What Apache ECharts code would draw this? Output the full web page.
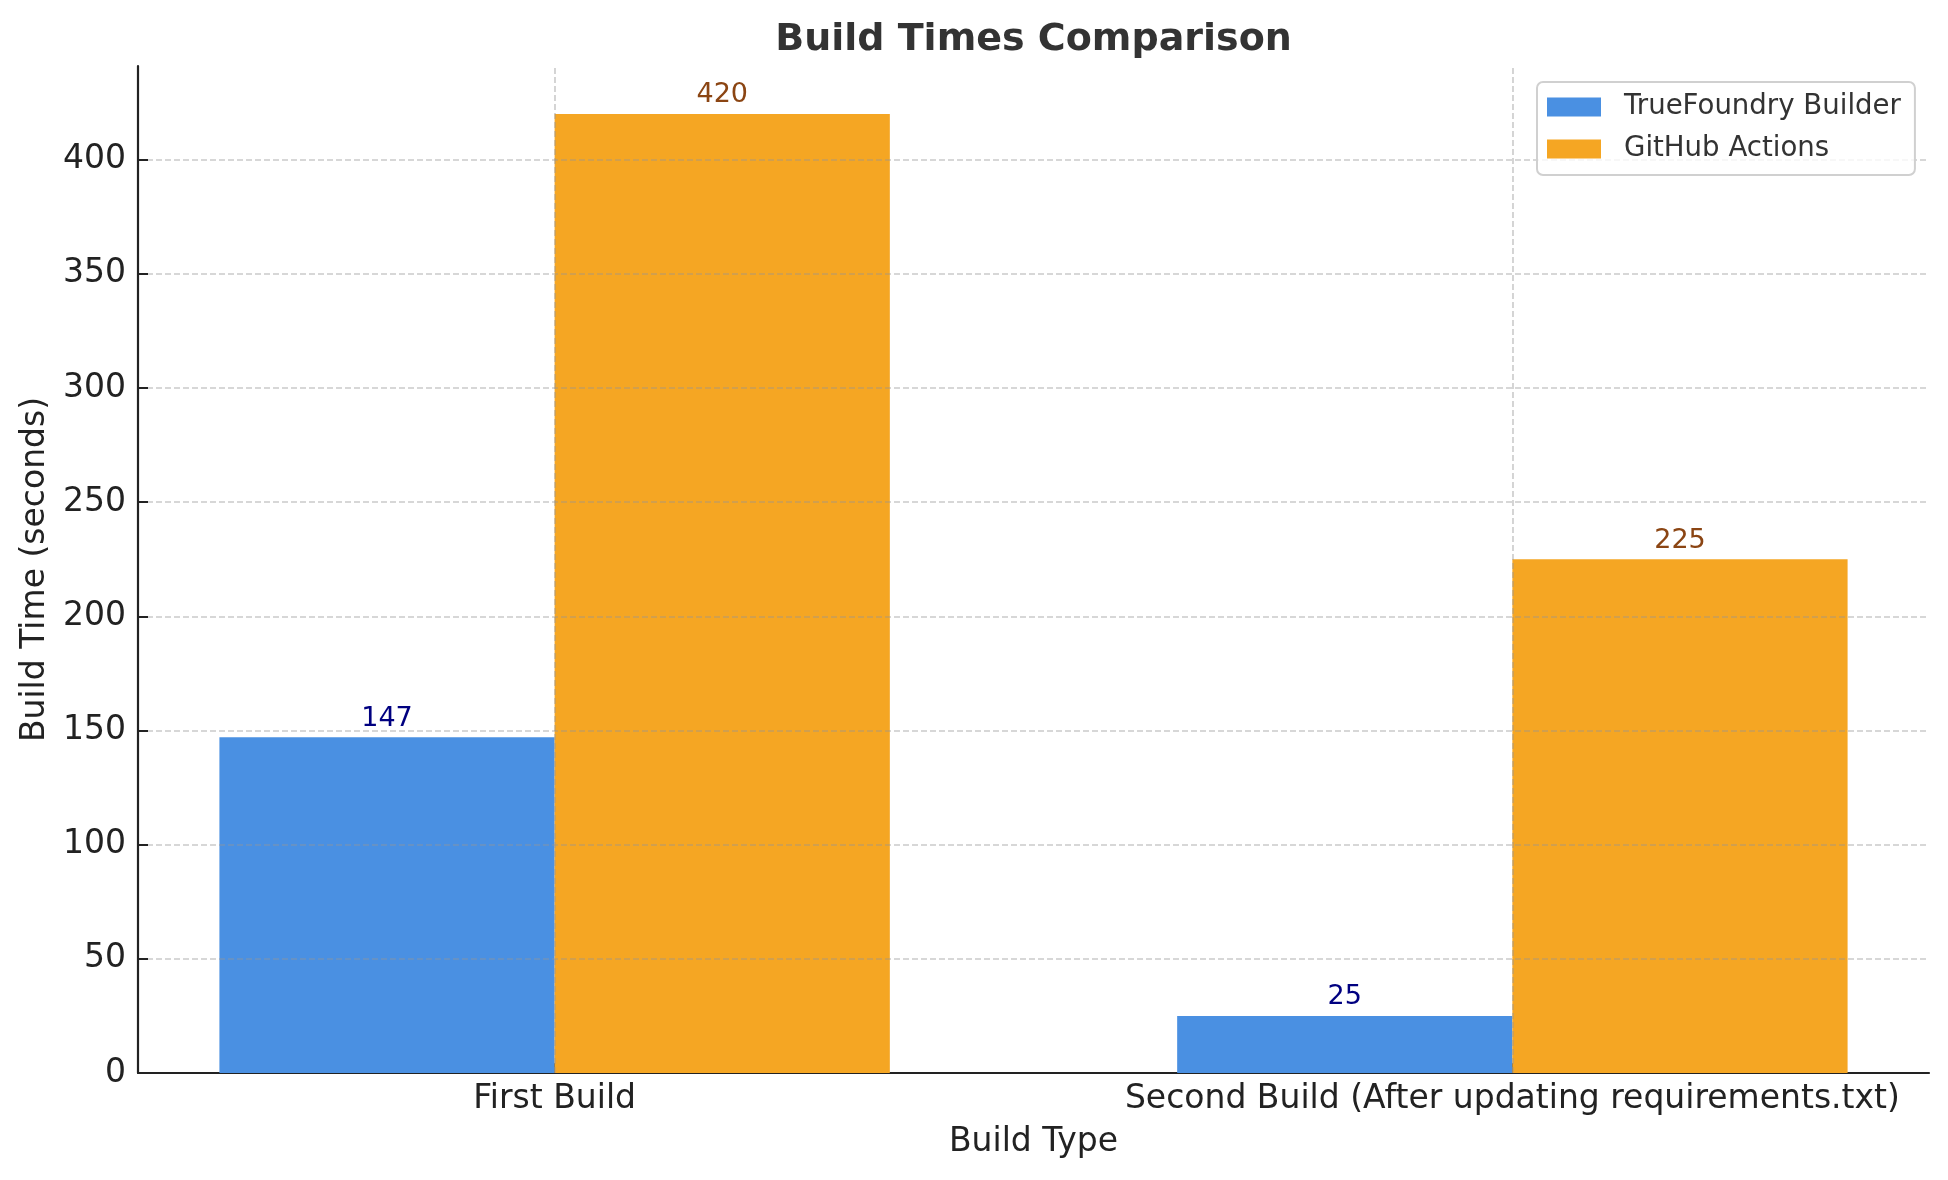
<!DOCTYPE html>
<html>
<head>
<meta charset="utf-8">
<script src="https://cdn.jsdelivr.net/npm/echarts@6/dist/echarts.min.js"></script>
<style>
html,body{margin:0;padding:0;background:#fff;}
#chart{width:1948px;height:1180px;}
</style>
</head>
<body>
<div id="chart"></div>
<script>
const categories = ["First Build", "Second Build (After updating requirements.txt)"];
const categoryPositions = [0, 1];
const trueFoundry = [147, 25];
const githubActions = [420, 225];
const seriesNames = ["TrueFoundry Builder", "GitHub Actions"];
const yTickInterval = 50;

const FONT = "DejaVu Sans";
const chart = echarts.init(document.getElementById('chart'), null, {renderer: 'canvas'});

const plotLeft = 138, plotRight = 1929, plotTop = 66, plotBottom = 1073;
const xMin = -0.435, xMax = 1.435;
const barW = 0.35 * (plotRight - plotLeft) / (xMax - xMin);

const gridLine = {color: 'rgba(150,150,150,0.5)', width: 1.6, type: [6, 3]};

const option = {
  backgroundColor: '#ffffff',
  animation: false,
  title: {
    text: 'Build Times Comparison',
    left: (plotLeft + plotRight) / 2,
    textAlign: 'center',
    top: 21,
    padding: 0,
    textStyle: {fontFamily: FONT, fontSize: 38, fontWeight: 'bold', color: '#333333'}
  },
  legend: {
    orient: 'vertical',
    left: 1537,
    top: 82,
    data: seriesNames,
    icon: 'rect',
    itemWidth: 54,
    itemHeight: 19,
    itemGap: 14,
    padding: [11, 14, 12, 10],
    borderColor: '#d0d0d0',
    borderWidth: 2,
    borderRadius: 6,
    backgroundColor: 'rgba(255,255,255,0.8)',
    textStyle: {fontFamily: FONT, fontSize: 27.6, color: '#333333', lineHeight: 28, padding: [0, 0, 0, 18]}
  },
  grid: {left: plotLeft, top: plotTop, width: plotRight - plotLeft, height: plotBottom - plotTop},
  xAxis: {
    type: 'value',
    min: xMin,
    max: xMax,
    name: 'Build Type',
    nameLocation: 'middle',
    nameGap: 53,
    nameTextStyle: {fontFamily: FONT, fontSize: 33, color: '#222222'},
    axisLine: {show: true, onZero: false, lineStyle: {color: '#222222', width: 2.2}},
    axisTick: {show: true, inside: true, length: 10, customValues: categoryPositions, lineStyle: {color: '#222222', width: 2}},
    axisLabel: {
      show: true, margin: 10, customValues: categoryPositions,
      fontFamily: FONT, fontSize: 33, color: '#222222',
      formatter: function (v) { return categories[Math.round(v)]; }
    },
    splitLine: {show: false}
  },
  yAxis: {
    type: 'value',
    min: 0,
    max: 441,
    interval: yTickInterval,
    z: 3,
    name: 'Build Time (seconds)',
    nameLocation: 'middle',
    nameGap: 83,
    nameRotate: 90,
    nameTextStyle: {fontFamily: FONT, fontSize: 33, color: '#222222'},
    axisLine: {show: true, onZero: false, lineStyle: {color: '#222222', width: 2.2}},
    axisTick: {show: true, inside: true, length: 10, lineStyle: {color: '#222222', width: 2}},
    axisLabel: {margin: 12, fontFamily: FONT, fontSize: 33, color: '#222222', showMaxLabel: false, padding: [4, 0, 0, 0]},
    splitLine: {show: true, showMinLine: false, showMaxLine: false, lineStyle: gridLine}
  },
  series: [
    {
      name: seriesNames[0],
      type: 'bar',
      data: categoryPositions.map((x, i) => [x, trueFoundry[i]]),
      barWidth: barW,
      barGap: '0%',
      itemStyle: {color: '#4A90E2'},
      label: {show: true, position: 'top', distance: 5, fontFamily: FONT, fontSize: 27, color: '#000080',
              formatter: p => p.value[1]}
    },
    {
      name: seriesNames[1],
      type: 'bar',
      data: categoryPositions.map((x, i) => [x, githubActions[i]]),
      barWidth: barW,
      barGap: '0%',
      itemStyle: {color: '#F5A623'},
      label: {show: true, position: 'top', distance: 5, fontFamily: FONT, fontSize: 27, color: '#8B4513',
              formatter: p => p.value[1]}
    },
    {
      name: 'vgrid',
      type: 'line',
      data: [],
      silent: true,
      markLine: {
        silent: true, symbol: 'none', z: 5, animation: false,
        label: {show: false},
        lineStyle: gridLine,
        data: categoryPositions.map(x => ({xAxis: x}))
      }
    }
  ]
};
chart.setOption(option);
</script>
</body>
</html>
